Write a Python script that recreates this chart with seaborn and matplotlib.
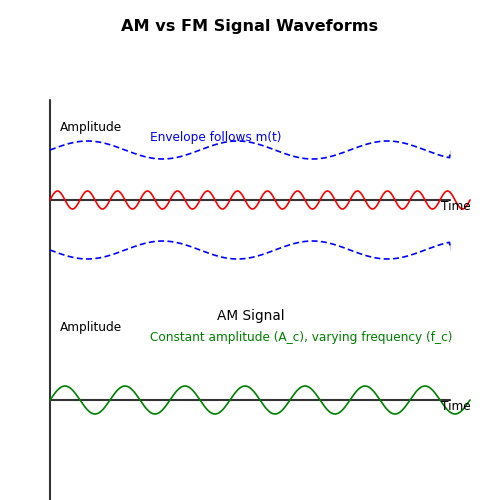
import numpy as np
import pandas as pd
import matplotlib
matplotlib.use('Agg')
import matplotlib.pyplot as plt
import seaborn as sns

# canvas units (pixels of a 500x500 drawing, y grows downward)
t_start, t_end = 50, 470
am_baseline = 200
fm_baseline = 400

# AM carrier: 14 cycles, amplitude 9
am_cycles = 14
am_amp = 9
# envelope m(t): period 150, swing 9, centred 50 above / below the axis
env_period = 150
env_swing = 9
env_offset = 50
env_end = 450
# FM wave: 7 cycles, amplitude 14
fm_cycles = 7
fm_amp = 14

t = np.linspace(t_start, t_end, 1200)
am = pd.DataFrame({
    'x': t,
    'y': am_baseline - am_amp * np.sin(2 * np.pi * am_cycles * (t - t_start) / (t_end - t_start)),
})
fm = pd.DataFrame({
    'x': t,
    'y': fm_baseline - fm_amp * np.sin(2 * np.pi * fm_cycles * (t - t_start) / (t_end - t_start)),
})
te = np.linspace(t_start, env_end, 600)
m = env_swing * np.sin(2 * np.pi * (te - t_start) / env_period)
env_hi = pd.DataFrame({'x': np.append(te, env_end),
                       'y': np.append(am_baseline - env_offset - m, am_baseline - env_offset)})
env_lo = pd.DataFrame({'x': np.append(te, env_end),
                       'y': np.append(am_baseline + env_offset + m, am_baseline + env_offset)})

sns.set_style('white')
plt.rcParams['font.family'] = ['DejaVu Sans']
plt.rcParams['text.color'] = 'black'

fig = plt.figure(figsize=(5, 5), dpi=100)
ax = fig.add_axes([0, 0, 1, 1])

# axes
ax.plot([50, 50], [100, 500], color='#333333', lw=1.5)
ax.plot([50, 450], [am_baseline, am_baseline], color='#333333', lw=1.5)
ax.plot([50, 450], [fm_baseline, fm_baseline], color='#333333', lw=1.5)

# signals
dash = (0, (3.6, 2))
sns.lineplot(data=am, x='x', y='y', color='red', lw=1.2, ax=ax, sort=False)
sns.lineplot(data=env_hi, x='x', y='y', color='blue', lw=1.2, ax=ax, sort=False, linestyle=dash)
sns.lineplot(data=env_lo, x='x', y='y', color='blue', lw=1.2, ax=ax, sort=False, linestyle=dash)
sns.lineplot(data=fm, x='x', y='y', color='green', lw=1.2, ax=ax, sort=False)
ax.set_xlim(0, 500)
ax.set_ylim(500, 0)
ax.axis('off')

# labels
ax.text(250, 26, 'AM vs FM Signal Waveforms', ha='center', va='center', fontsize=11.6, fontweight='bold')
ax.text(60, 127, 'Amplitude', ha='left', va='center', fontsize=8.7)
ax.text(441, 207, 'Time', ha='left', va='center', fontsize=8.7)
ax.text(150, 137, 'Envelope follows m(t)', ha='left', va='center', fontsize=8.7, color='blue')
ax.text(251, 316, 'AM Signal', ha='center', va='center', fontsize=9.8)
ax.text(60, 327, 'Amplitude', ha='left', va='center', fontsize=8.7)
ax.text(441, 407, 'Time', ha='left', va='center', fontsize=8.7)
ax.text(150, 337, 'Constant amplitude (A_c), varying frequency (f_c)', ha='left', va='center',
        fontsize=8.7, color='green')

fig.savefig('out.png', dpi=100)
